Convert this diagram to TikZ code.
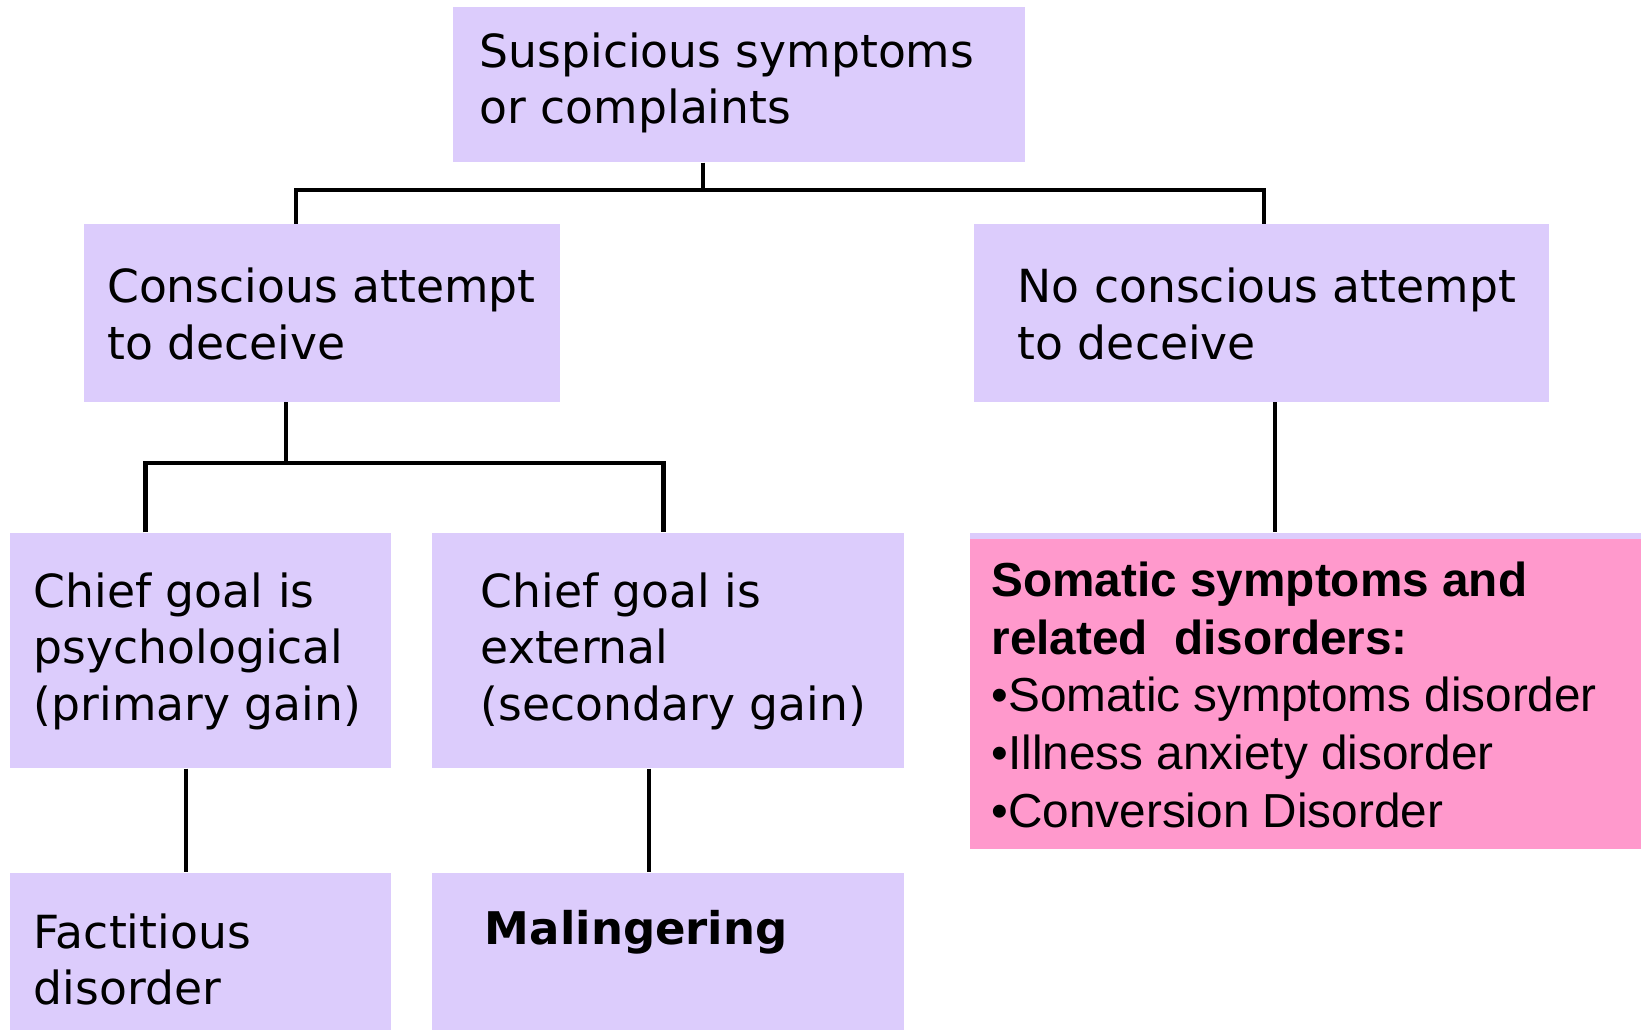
\documentclass[tikz,border=0pt]{standalone}
\usepackage{fontspec}
\usetikzlibrary{calc}
\newfontfamily\vfont{DejaVu Sans}
\newfontfamily\afont{Liberation Sans}
\definecolor{lav}{RGB}{220,204,252}
\definecolor{pinkbox}{RGB}{255,153,204}
\tikzset{
  box/.style={rectangle, fill=lav, draw=none, inner sep=0pt},
  pbox/.style={rectangle, fill=pinkbox, draw=none, inner sep=0pt},
  vtext/.style={anchor=west, inner sep=0pt, align=left, font=\vfont\fontsize{21.8}{27}\selectfont},
  atext/.style={anchor=west, inner sep=0pt, align=left, font=\afont\fontsize{22.8}{27.5}\selectfont},
  conn/.style={draw=black, line width=2.1pt}
}
\begin{document}
\begin{tikzpicture}[x=0.5pt,y=-0.5pt]
\clip (0,0) rectangle (1568,984);
\fill[white] (0,0) rectangle (1568,984);
% boxes
\node[box, minimum width=273pt, minimum height=74pt] (top) at (706,81) {};
\node[box, minimum width=227.5pt, minimum height=85pt] (ca) at (307.5,299) {};
\node[box, minimum width=274.5pt, minimum height=85pt] (nc) at (1205.5,299) {};
\node[box, minimum width=182pt, minimum height=112.5pt] (psych) at (192,621.5) {};
\node[box, minimum width=225.5pt, minimum height=112.5pt] (ext) at (638.5,621.5) {};
\node[box, minimum width=182pt, minimum height=83pt] (fact) at (192,917) {};
\node[box, minimum width=225.5pt, minimum height=83pt] (mal) at (638.5,917) {};
\node[box, minimum width=336.5pt, minimum height=151pt] (lav) at (1263.5,660) {};
\node[pbox, minimum width=336.5pt, minimum height=148pt] (som) at (1263.5,663) {};
% texts
\node[vtext] (ttop) at (458,79) {Suspicious symptoms\\or complaints};
\node[vtext] (tca) at (102,300) {Conscious attempt\\to deceive};
\node[vtext] (tnc) at (972,300) {No conscious attempt\\to deceive};
\node[vtext] (tpsych) at (32,622) {Chief goal is\\psychological\\(primary gain)};
\node[vtext] (text) at (459,622) {Chief goal is\\external\\(secondary gain)};
\node[vtext] (tfact) at (32,917) {Factitious\\disorder};
\node[vtext, font=\vfont\bfseries\fontsize{21.5}{27}\selectfont] (tmal) at (463,891) {Malingering};
\node[atext] (tsom) at (947,664) {\textbf{Somatic symptoms and}\\\textbf{related\ \ disorders:}\\•Somatic symptoms disorder\\•Illness anxiety disorder\\•Conversion Disorder};
% connectors
\draw[conn] ($(top.south)+(-34,0)$) -- ++(0,27);
\draw[conn] ($(ca.north)+(-24.5,0)$) -- ++(0,-32) -| ($(nc.north)+(2.5,0)$);
\draw[conn] ($(ca.south)+(-34.5,0)$) -- ++(0,59);
\draw[conn] ($(psych.north)+(-53,0)$) -- ++(0,-66) -| ($(ext.north)+(-4.5,0)$);
\draw[conn] ($(nc.south)+(12.5,0)$) -- ($(lav.north)+(-45.5,0)$);
\draw[conn] ($(psych.south)+(-14,0)$) -- ($(fact.north)+(-14,0)$);
\draw[conn] ($(ext.south)+(-18.5,0)$) -- ($(mal.north)+(-18.5,0)$);
\end{tikzpicture}
\end{document}
